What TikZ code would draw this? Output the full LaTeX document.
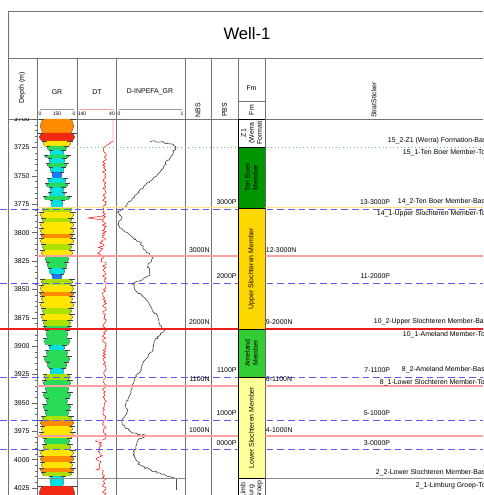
\documentclass[tikz,border=0pt]{standalone}
\usepackage{fontspec}
\setmainfont{Liberation Sans}
\usetikzlibrary{decorations.pathmorphing}

\begin{document}
\begin{tikzpicture}[x=0.75pt,y=-0.75pt,
    lbl/.style={font=\fontsize{5.2}{6}\selectfont, inner sep=0.5pt},
    scalelbl/.style={font=\fontsize{3.8}{4.5}\selectfont, inner sep=0.3pt},
    colline/.style={draw=black!55, line width=0.5pt},
    pmark/.style={draw=markblue, dash pattern=on 5pt off 3pt, line width=0.6pt},
    nmark/.style={draw=markpink, line width=0.8pt},
    dtline/.style={draw=red, line width=0.35pt},
    inpefa/.style={draw=black!80, line width=0.4pt, decorate,
      decoration={random steps, segment length=1.2pt, amplitude=0.8pt}},
    fmbox/.style={draw=black, line width=0.4pt},
    fmtext/.style={lbl, rotate=90, align=center}]

  % Color definitions
  \definecolor{markblue}{RGB}{90,90,240}
  \definecolor{markpink}{RGB}{255,160,160}
  \definecolor{markred}{RGB}{235,30,30}
  \definecolor{markyel}{RGB}{255,225,130}
  \definecolor{markgrn}{RGB}{110,200,110}
  \definecolor{grA}{RGB}{30,120,255}   % blue
  \definecolor{grB}{RGB}{0,225,225}    % cyan
  \definecolor{grC}{RGB}{40,220,90}    % green
  \definecolor{grD}{RGB}{170,225,0}    % yellow green
  \definecolor{grE}{RGB}{255,230,0}    % yellow
  \definecolor{grF}{RGB}{255,140,0}    % orange
  \definecolor{grG}{RGB}{240,40,20}    % red
  \definecolor{fmTB}{RGB}{0,150,0}
  \definecolor{fmUS}{RGB}{255,215,0}
  \definecolor{fmAM}{RGB}{50,205,50}
  \definecolor{fmLS}{RGB}{255,255,153}

  % Helper macros  {depth} -> y ;  {top}{bottom}{half width}{colour}
  \newcommand{\dep}[1]{147.5+(#1-3725)*1.135}
  \newcommand{\grbed}[4]{%
    \fill[#4] ({57-0.85*#3},#1) -- ({57-#3},{(#1+#2)/2}) -- ({57-0.85*#3},#2)
      -- ({57+0.85*#3},#2) -- ({57+#3},{(#1+#2)/2}) -- ({57+0.85*#3},#1) -- cycle;
    % lens outline and edge spikes
    \draw[black!70, line width=0.2pt] ({57-0.85*#3},#1) -- ({57-#3},{(#1+#2)/2}) -- ({57-0.85*#3},#2);
    \draw[black!70, line width=0.2pt] ({57+0.85*#3},#1) -- ({57+#3},{(#1+#2)/2}) -- ({57+0.85*#3},#2);
    \draw[black!75, line width=0.25pt] ({57-#3-1.5},#1) -- ({57-0.85*#3+1.5},#1);
    \draw[black!75, line width=0.25pt] ({57+#3+1.5},#1) -- ({57+0.85*#3-1.5},#1);}

  \useasboundingbox (0,0) rectangle (483,495);
  \clip (0,0) rectangle (483,495);
  \pgfmathsetseed{11}

  % Frame and title
  \draw[colline] (8,495) -- (8,11) -- (490,11);
  \draw[colline] (8,58) -- (490,58);
  \draw[colline] (8,119) -- (490,119);
  \foreach \cx in {37,77,116,185,211,238,265}
    \draw[colline] (\cx,58) -- (\cx,495);
  \draw[colline] (238,101) -- (265,101);
  \node[font=\fontsize{12.5}{14}\selectfont] (title) at (247,34) {Well-1};

  % Track headers
  \node[lbl, rotate=90] (hdepth) at (22,88) {Depth (m)};
  \node[lbl] (hgr) at (57,92) {GR};
  \node[lbl] (hdt) at (97,92) {DT};
  \node[lbl] (hinp) at (150,92) {D-INPEFA\_GR};
  \node[lbl, rotate=90] (hnbs) at (198,110) {NBS};
  \node[lbl, rotate=90] (hpbs) at (224.5,110) {PBS};
  \node[lbl] (hfm) at (251.5,88) {Fm};
  \node[lbl, rotate=90] (hfm2) at (251.5,110) {Fm};
  \node[lbl, rotate=90] (hstrat) at (374,100) {StratSticker};
  % scale bars
  \draw[black!40, line width=0.6pt] (40,109) -- (74,109);
  \draw[markpink, line width=0.6pt] (79,109) -- (114,109);
  \draw[black!40, line width=0.6pt] (119,109) -- (182,109);
  \node[scalelbl] (sg0) at (40,114) {0};
  \node[scalelbl] (sg1) at (57,114) {150};
  \node[scalelbl] (sg2) at (74,114) {0};
  \node[scalelbl] (sd0) at (82,114) {140};
  \node[scalelbl] (sd1) at (112,114) {40};
  \node[scalelbl] (si0) at (119,114) {0};
  \node[scalelbl] (si1) at (182,114) {1};

  % Depth scale
  \begin{scope}
    \clip (8,119) rectangle (37,495);
    \foreach \d in {3700,3705,...,4025}
      \draw[black!60, line width=0.3pt] (34.5,{\dep{\d}}) -- (37,{\dep{\d}});
    \foreach \d in {3700,3725,...,4025} {
      \draw[black!60, line width=0.3pt] (32,{\dep{\d}}) -- (37,{\dep{\d}});
      \node[lbl, anchor=east] (d\d) at (30.5,{\dep{\d}}) {\d};}
  \end{scope}

  % GR beds
  %        top/bottom/halfwidth/colour
  \foreach \ytop/\ybot/\hw/\col in {119/133/17/grF, 133/141/18/grG, 141/146/14/grE,
      146/150/10/grC, 150/155/7/grB, 155/158/12/grC, 158/163/8/grB, 163/167/10/grC,
      167/172/7/grB, 172/178/5/grA, 178/183/9/grB, 183/187/11/grC, 187/192/7/grB,
      192/196/8/grB, 196/200/13/grC, 200/207/6/grB, 207/212/15/grD, 212/218/17/grE,
      218/222/15/grD, 222/228/17/grE, 228/234/17/grE, 234/238/16/grF, 238/244/17/grE,
      244/250/15/grD, 250/256/16/grE, 256/262/12/grC, 262/268/10/grC, 268/274/8/grB,
      274/279/5/grA, 279/285/16/grD, 285/292/17/grE, 292/296/17/grF, 296/302/16/grE,
      302/308/17/grE, 308/314/15/grD, 314/320/16/grE, 320/326/14/grD, 326/330/13/grC,
      330/338/11/grC, 338/345/13/grC, 345/350/8/grB, 350/356/11/grC, 356/362/13/grC,
      362/368/10/grC, 368/374/7/grB, 374/380/13/grD, 380/386/14/grC, 386/392/12/grC,
      392/398/14/grC, 398/404/11/grC, 404/410/14/grC, 410/416/12/grC, 416/420/15/grD,
      420/426/17/grF, 426/432/16/grE, 432/438/17/grE, 438/444/13/grC, 444/450/14/grD,
      450/456/17/grE, 456/462/17/grF, 462/468/16/grE, 468/472/17/grF, 472/476/15/grD,
      476/486/7/grB, 486/500/18/grG}
    \grbed{\ytop}{\ybot}{\hw}{\col};

  % DT curve
  \draw[dtline] (113,119) -- (113,141) -- (106,146)
    -- plot[domain=146:240, samples=70, variable=\t] ({104.5+2.2*rand},\t)
    -- plot[domain=240:262, samples=16, variable=\t] ({101+3.5*rand},\t)
    -- plot[domain=262:440, samples=130, variable=\t] ({104.5+2*rand},\t)
    -- plot[domain=440:470, samples=22, variable=\t] ({99+3.5*rand},\t)
    -- plot[domain=470:495, samples=18, variable=\t] ({104.5+2.2*rand},\t);
  \draw[dtline] (103,216) -- (88,218) -- (103,220);

  % D-INPEFA_GR curve
  \draw[inpefa] plot[sharp plot] coordinates {(150,141) (160,142) (170,144) (176,147)
    (172,155) (168,160) (165,165) (160,172) (155,177) (152,180) (146,185) (140,190)
    (135,195) (132,199) (128,203) (125,207) (117,212) (122,218) (118,225) (125,232)
    (133,238) (140,242) (145,250) (153,258) (148,265) (150,275) (140,281) (133,283)
    (135,290) (145,298) (150,305) (158,318) (160,326) (165,330) (155,340) (153,350)
    (145,360) (140,372) (135,378) (132,385) (130,395) (125,405) (128,410) (122,420)
    (125,428) (135,433) (145,436) (138,440) (135,450) (133,455) (140,465) (150,470)
    (165,475) (177,478)};
  \draw[black!70, line width=0.4pt] (176,478) -- (176,490);

  % Correlation markers
  \draw[markgrn, dotted, line width=0.7pt] (37,147) -- (483,147);
  \draw[markyel, line width=0.8pt] (37,207.5) -- (483,207.5);
  \draw[pmark] (0,209.5) -- (483,209.5);
  \draw[nmark] (37,256) -- (483,256);
  \draw[pmark] (0,283) -- (483,283);
  \draw[markred, line width=1.1pt] (0,329) -- (483,329);
  \draw[pmark] (0,377) -- (483,377);
  \draw[nmark] (37,386) -- (483,386);
  \draw[pmark] (0,420) -- (483,420);
  \draw[nmark] (37,436) -- (483,436);
  \draw[pmark] (0,449) -- (483,449);
  \draw[black!45, line width=0.5pt] (37,478) -- (185,478);
  \draw[black!45, line width=0.5pt] (238,478) -- (483,478);

  % Fm column
  \begin{scope}
    \clip (238,119) rectangle (265,495);
    \draw[fmbox, fill=white] (238,119) rectangle (265,147);
    \node[fmtext] (fmz) at (251.5,133) {Z1\\(Werra\\Formati};
    \draw[fmbox, fill=fmTB] (238,147) rectangle (265,208);
    \node[fmtext] (fmtb) at (251.5,177.5) {Ten Boer\\Member};
    \draw[fmbox, fill=fmUS] (238,208) rectangle (265,329);
    \node[fmtext] (fmus) at (251.5,268.5) {Upper Slochteren Member};
    \draw[fmbox, fill=fmAM] (238,329) rectangle (265,377);
    \node[fmtext] (fmam) at (251.5,353) {Ameland\\Member};
    \draw[fmbox, fill=fmLS] (238,377) rectangle (265,478);
    \node[fmtext] (fmls) at (251.5,427.5) {Lower Slochteren Member};
    \draw[fmbox, fill=white] (238,478) rectangle (265,505);
    \node[fmtext] (fmlg) at (251.5,490) {Limb\\urg\\Groep};
  \end{scope}

  % NBS and PBS labels
  \foreach \y/\t [count=\i] in {250/3000N, 322/2000N, 379/1100N, 430/1000N}
    \node[lbl, anchor=east] (nbs\i) at (210.5,\y) {\t};
  \foreach \y/\t [count=\i] in {202/3000P, 276/2000P, 370/1100P, 413/1000P, 443/0000P}
    \node[lbl, anchor=east] (pbs\i) at (237.5,\y) {\t};

  % StratSticker labels
  \foreach \y/\t [count=\i] in {202/13-3000P, 276/11-2000P, 370/7-1100P, 413/5-1000P, 443/3-0000P}
    \node[lbl, anchor=east] (sp\i) at (391,\y) {\t};
  \foreach \y/\t [count=\i] in {250/12-3000N, 322/9-2000N, 379.5/6-1100N, 430/4-1000N}
    \node[lbl, anchor=west] (sn\i) at (265,\y) {\t};
  \foreach \x/\y/\t [count=\i] in {387/141/15\_2-Z1 (Werra) Formation-Bas,
      402/153/15\_1-Ten Boer Member-To, 397/202/14\_2-Ten Boer Member-Bas,
      376/214/14\_1-Upper Slochteren Member-To, 373/322/10\_2-Upper Slochteren Member-Bas,
      402/335/10\_1-Ameland Member-To, 401/370/8\_2-Ameland Member-Bas,
      379/383/8\_1-Lower Slochteren Member-To, 375/473/2\_2-Lower Slochteren Member-Bas,
      415/486/2\_1-Limburg Groep-To}
    \node[lbl, anchor=west] (st\i) at (\x,\y) {\t};
\end{tikzpicture}
\end{document}
